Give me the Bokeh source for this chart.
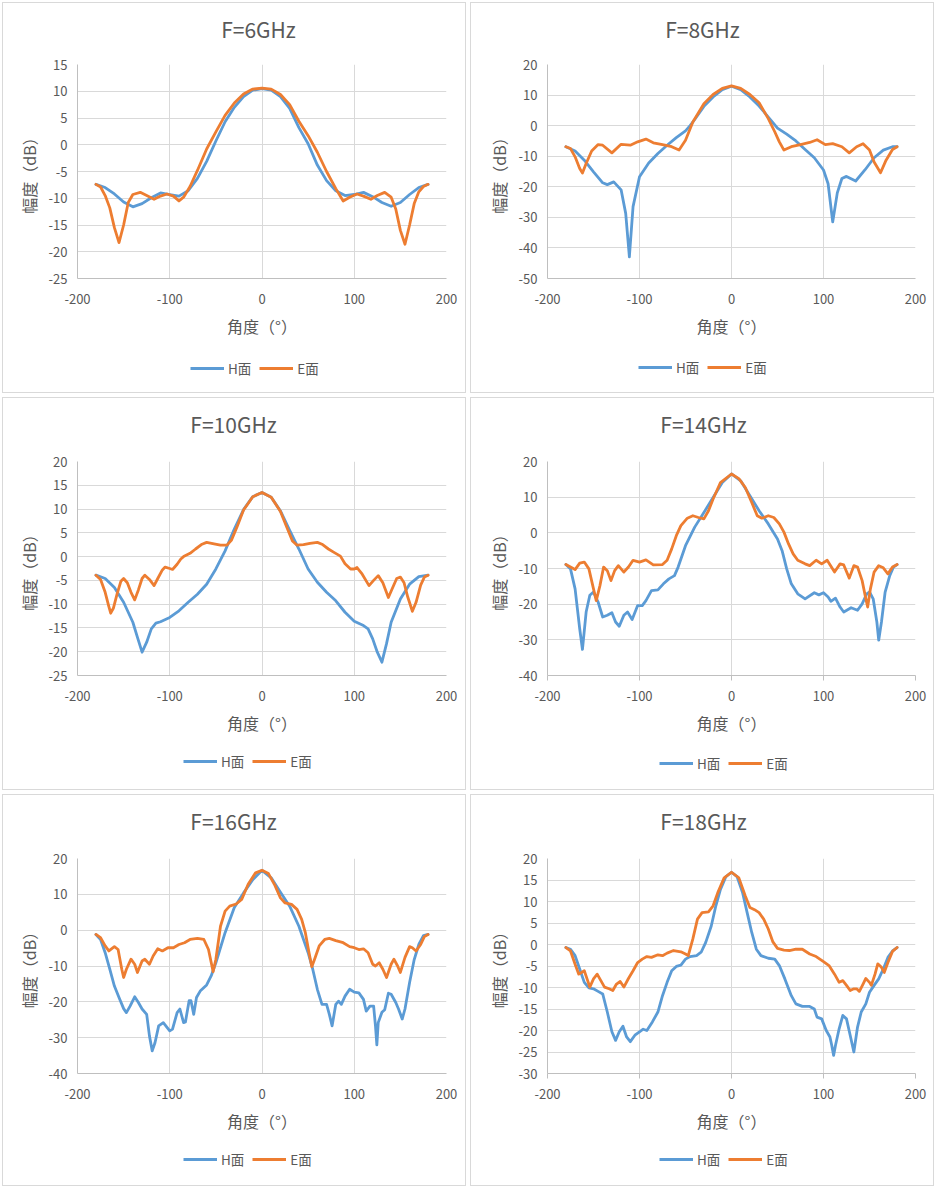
from bokeh.plotting import figure
from bokeh.layouts import column, row
from bokeh.models import Legend, LegendItem, FixedTicker, Range1d, NumeralTickFormatter, Label
from bokeh.embed import file_html
from bokeh.resources import INLINE

# ---------------- data (angle in degrees, amplitude in dB) ----------------
titles = ["F=6GHz", "F=8GHz", "F=10GHz", "F=14GHz", "F=16GHz", "F=18GHz"]
x_ticks = [-200, -100, 0, 100, 200]
y_ticks_6 = [-25, -20, -15, -10, -5, 0, 5, 10, 15]
y_ticks_8 = [-50, -40, -30, -20, -10, 0, 10, 20]
y_ticks_10 = [-25, -20, -15, -10, -5, 0, 5, 10, 15, 20]
y_ticks_14 = [-40, -30, -20, -10, 0, 10, 20]
y_ticks_16 = [-40, -30, -20, -10, 0, 10, 20]
y_ticks_18 = [-30, -25, -20, -15, -10, -5, 0, 5, 10, 15, 20]

ang6_h = [-180, -170, -160, -150, -140, -130, -120, -110, -100, -90, -80, -70, -60, -50, -40, -30, -20, -10, 0,
          10, 20, 30, 40, 50, 60, 70, 80, 90, 100, 110, 120, 130, 140, 150, 160, 170, 180]
h6 = [-7.4, -8.0, -9.2, -10.7, -11.6, -11.0, -9.9, -9.0, -9.3, -9.6, -8.6, -6.3, -3.1, 0.7, 4.3, 7.0, 9.0, 10.2, 10.5,
      10.2, 9.0, 6.8, 3.2, 0.2, -3.8, -6.7, -8.6, -9.5, -9.3, -8.9, -9.7, -10.8, -11.5, -10.8, -9.3, -8.0, -7.4]
ang6_e = [-180, -175, -170, -165, -160, -155, -150, -145, -140, -132, -125, -117, -110, -103, -96, -90, -85, -78, -70,
          -60, -50, -40, -30, -20, -10, 0, 10, 20, 30, 40, 50, 60, 70, 80, 88, 95, 103, 110, 118, 125, 133, 140, 145,
          150, 155, 160, 165, 170, 175, 180]
e6 = [-7.4, -7.9, -9.5, -11.8, -15.5, -18.3, -15.0, -10.8, -9.3, -8.9, -9.5, -10.2, -9.6, -9.2, -9.6, -10.5, -9.8, -7.8,
      -4.8, -0.8, 2.4, 5.5, 7.8, 9.5, 10.4, 10.6, 10.4, 9.4, 7.5, 4.4, 1.7, -1.4, -5.0, -8.2, -10.5, -9.8, -9.2, -9.6,
      -10.2, -9.5, -8.9, -9.8, -12.0, -16.0, -18.6, -15.0, -11.0, -8.8, -7.8, -7.4]

ang8_h = [-180, -170, -160, -150, -140, -135, -128, -120, -115, -111, -107, -100, -90, -80, -70, -60, -50, -45, -40,
          -30, -20, -10, 0, 10, 20, 30, 40, 50, 60, 70, 80, 90, 100, 105, 110, 115, 120, 125, 135, 145, 155, 165, 175,
          180]
h8 = [-6.9, -8.3, -11.3, -15.1, -18.7, -19.3, -18.4, -21.0, -28.7, -42.9, -26.5, -16.7, -12.2, -9.1, -6.4, -3.9, -1.7,
      0.0, 2.0, 6.3, 9.4, 11.8, 12.9, 11.8, 9.4, 6.4, 2.8, -0.8, -2.8, -5.0, -7.8, -10.5, -14.5, -19.0, -31.5, -22.0,
      -17.3, -16.6, -18.1, -14.5, -10.5, -8.0, -6.9, -6.9]
ang8_e = [-180, -175, -170, -165, -162, -158, -152, -145, -140, -130, -120, -110, -102, -93, -85, -75, -65, -57, -50,
          -42, -30, -20, -10, 0, 10, 20, 30, 40, 47, 52, 57, 65, 75, 85, 93, 102, 110, 120, 128, 136, 143, 150, 155,
          162, 168, 175, 180]
e8 = [-6.9, -7.5, -10.2, -14.0, -15.5, -12.4, -8.3, -6.2, -6.4, -8.9, -6.1, -6.4, -5.3, -4.4, -5.6, -6.2, -6.9, -8.0,
      -4.8, 1.2, 7.2, 10.2, 12.2, 13.0, 12.2, 10.2, 7.5, 2.3, -2.0, -5.3, -8.0, -6.9, -6.2, -5.5, -4.6, -6.2, -5.9,
      -6.9, -8.9, -6.9, -5.9, -8.0, -11.9, -15.4, -11.3, -7.8, -6.9]

ang10_h = [-180, -170, -160, -150, -140, -135, -130, -125, -120, -115, -110, -100, -90, -80, -70, -60, -50, -40, -30,
           -20, -10, 0, 10, 20, 30, 40, 50, 60, 70, 80, 90, 100, 110, 115, 120, 125, 130, 135, 140, 150, 160, 170, 180]
h10 = [-3.9, -4.6, -6.5, -9.6, -13.8, -17.0, -20.1, -18.0, -15.2, -14.0, -13.7, -12.8, -11.4, -9.6, -7.9, -5.8, -2.6,
       1.2, 5.8, 9.9, 12.6, 13.5, 12.5, 9.6, 5.5, 1.6, -2.6, -5.4, -7.5, -9.3, -11.7, -13.6, -14.5, -15.2, -17.3, -20.1,
       -22.2, -18.3, -13.8, -8.9, -5.8, -4.2, -3.9]
ang10_e = [-180, -175, -170, -166, -164, -161, -157, -153, -150, -146, -142, -138, -134, -130, -127, -122, -117, -113,
           -108, -105, -100, -97, -92, -88, -85, -78, -72, -65, -60, -52, -45, -38, -33, -27, -20, -10, 0, 10, 20, 27,
           33, 38, 45, 52, 60, 65, 72, 78, 85, 90, 96, 100, 103, 108, 116, 121, 126, 131, 137, 141, 146, 150, 154, 158,
           163, 167, 172, 176, 180]
e10 = [-3.9, -4.8, -7.5, -10.5, -11.9, -10.8, -7.8, -5.2, -4.6, -5.5, -7.5, -9.1, -7.0, -4.6, -3.9, -4.8, -6.1, -4.6,
       -2.8, -2.2, -2.5, -2.7, -1.6, -0.5, 0.0, 0.7, 1.6, 2.6, 3.0, 2.7, 2.4, 2.4, 3.5, 6.3, 9.8, 12.6, 13.5, 12.5, 9.5,
       6.1, 3.3, 2.4, 2.5, 2.8, 3.0, 2.6, 1.6, 0.9, 0.1, -1.5, -2.6, -2.6, -2.3, -3.5, -6.1, -5.0, -4.0, -5.5, -8.6,
       -6.8, -4.6, -4.3, -5.5, -8.5, -11.5, -9.6, -6.0, -4.3, -3.9]

ang14_h = [-180, -175, -170, -165, -162, -158, -154, -150, -145, -140, -135, -130, -126, -122, -117, -113, -108, -102,
           -97, -93, -87, -80, -74, -68, -62, -58, -50, -40, -30, -20, -10, 0, 10, 20, 30, 40, 50, 55, 60, 65, 72, 80,
           90, 95, 100, 105, 108, 113, 118, 122, 130, 137, 142, 147, 150, 154, 158, 160, 163, 167, 172, 176, 180]
h14 = [-8.9, -10.1, -15.7, -26.9, -32.7, -22.2, -17.5, -16.6, -19.4, -23.6, -23.1, -22.4, -25.0, -26.2, -23.1, -22.2,
       -24.3, -20.4, -20.4, -19.0, -16.2, -16.0, -14.3, -12.9, -12.0, -9.6, -3.6, 1.6, 5.7, 9.9, 14.1, 16.5, 14.6, 10.4,
       6.2, 2.5, -1.7, -5.0, -10.1, -14.3, -17.1, -18.5, -16.8, -17.4, -16.8, -18.0, -19.2, -18.3, -20.8, -22.2, -21.0,
       -21.7, -19.9, -17.1, -16.6, -18.5, -25.0, -30.1, -25.0, -16.6, -12.0, -9.6, -8.9]
ang14_e = [-180, -175, -170, -165, -160, -155, -150, -147, -143, -139, -135, -131, -127, -123, -117, -112, -107, -100,
           -93, -85, -75, -70, -65, -60, -55, -48, -42, -36, -30, -25, -20, -12, 0, 8, 15, 22, 28, 33, 40, 46, 52, 57,
           62, 67, 72, 80, 85, 92, 98, 104, 112, 118, 122, 128, 133, 137, 142, 146, 148, 151, 155, 160, 165, 170, 175,
           180]
e14 = [-8.9, -9.6, -10.3, -8.5, -8.2, -10.1, -15.7, -19.0, -14.8, -9.6, -10.6, -13.4, -10.6, -9.2, -11.0, -9.6, -7.7,
       -8.2, -7.6, -9.0, -8.9, -7.7, -4.5, -0.8, 2.0, 4.1, 4.8, 4.3, 3.9, 6.2, 9.5, 14.1, 16.5, 15.2, 12.7, 8.5, 4.8,
       4.1, 4.8, 4.3, 2.5, 0.2, -3.1, -5.9, -7.7, -8.7, -9.2, -7.7, -8.7, -7.7, -11.0, -8.7, -9.0, -12.7, -9.2, -9.6,
       -13.4, -18.5, -20.8, -15.7, -11.0, -9.2, -9.8, -11.5, -9.6, -8.9]

ang16_h = [-180, -175, -170, -165, -160, -155, -150, -147, -143, -138, -134, -130, -125, -122, -119, -116, -112, -107,
           -100, -97, -92, -89, -85, -83, -79, -77, -74, -71, -67, -60, -55, -50, -40, -30, -20, -10, 0, 10, 20, 30, 40,
           50, 55, 60, 65, 70, 73, 76, 80, 83, 86, 90, 95, 100, 105, 110, 113, 117, 121, 123, 124.5, 126, 130, 133, 137,
           140, 145, 148, 152, 155, 160, 165, 170, 175, 180]
h16 = [-1.2, -2.6, -6.3, -10.9, -15.6, -18.8, -21.9, -23.0, -21.2, -18.6, -20.2, -22.0, -23.5, -29.5, -33.7, -31.4,
       -26.7, -25.8, -28.1, -27.6, -23.0, -22.0, -25.8, -25.6, -19.7, -19.7, -23.5, -18.8, -17.0, -15.3, -12.7, -9.1,
       -0.7, 6.3, 10.4, 14.1, 16.7, 14.6, 10.6, 6.7, 1.1, -6.3, -10.9, -16.5, -20.7, -20.7, -23.5, -26.7, -20.7, -19.8,
       -20.7, -18.4, -16.5, -17.3, -17.5, -19.3, -22.6, -21.2, -21.2, -26.7, -32.0, -25.8, -22.9, -22.2, -17.6, -17.9,
       -20.2, -22.0, -24.8, -22.0, -14.6, -8.2, -4.0, -1.5, -1.2]
ang16_e = [-180, -175, -170, -166, -160, -156, -152, -150, -147, -142, -138, -135, -130, -127, -122, -118, -113, -108,
           -102, -96, -90, -84, -78, -70, -63, -58, -55, -53, -50, -45, -40, -35, -28, -22, -15, -7, 0, 7, 14, 20, 25,
           32, 38, 43, 47, 51, 54, 57, 62, 68, 73, 80, 88, 95, 100, 105, 110, 115, 120, 123, 127, 131, 135, 140, 143,
           147, 150, 155, 160, 163, 167, 172, 176, 180]
e16 = [-1.2, -2.1, -4.4, -5.8, -4.6, -5.4, -10.9, -13.2, -10.9, -8.1, -9.5, -11.8, -8.6, -8.1, -9.5, -7.2, -5.2, -5.8,
       -4.9, -4.9, -4.0, -3.5, -2.6, -2.3, -2.6, -5.4, -9.1, -11.6, -8.1, 1.1, 5.3, 6.7, 7.3, 8.6, 12.8, 16.0, 16.7,
       15.8, 12.5, 9.0, 7.6, 7.2, 5.8, 3.0, -0.7, -6.3, -10.2, -8.1, -4.4, -2.6, -2.3, -2.9, -3.5, -4.6, -4.9, -5.4,
       -5.2, -6.3, -9.5, -10.0, -9.1, -10.9, -13.2, -9.5, -8.1, -10.0, -11.8, -7.6, -4.6, -4.9, -5.8, -4.0, -1.8, -1.2]

ang18_h = [-180, -175, -170, -165, -160, -155, -150, -145, -140, -135, -130, -126, -122, -118, -114, -110, -105, -100,
           -96, -92, -86, -80, -75, -70, -65, -60, -55, -50, -45, -38, -33, -28, -22, -17, -12, -6, 0, 6, 12, 17, 22, 27,
           32, 40, 47, 52, 58, 65, 70, 77, 85, 90, 93, 98, 103, 107, 109, 111, 113, 117, 121, 125, 129, 133, 137, 141,
           146, 150, 155, 160, 165, 170, 175, 180]
h18 = [-0.7, -1.1, -2.6, -5.7, -8.8, -10.1, -10.3, -10.9, -11.5, -15.7, -20.3, -22.3, -20.3, -19.0, -21.5, -22.6,
       -21.1, -20.3, -19.7, -20.0, -18.0, -15.7, -11.9, -8.8, -6.1, -5.1, -4.8, -3.4, -2.8, -2.6, -1.8, 0.5, 4.3, 9.0,
       12.8, 15.8, 16.8, 15.8, 12.1, 7.4, 2.8, -1.1, -2.6, -3.2, -3.4, -4.9, -8.0, -11.9, -13.8, -14.4, -14.4, -15.0,
       -16.9, -17.3, -20.0, -21.5, -23.5, -25.8, -23.5, -19.6, -16.5, -17.3, -21.1, -25.0, -19.2, -15.7, -13.8, -11.1,
       -9.5, -8.0, -5.7, -3.0, -1.5, -0.7]
ang18_e = [-180, -175, -170, -166, -163, -160, -157, -154, -150, -146, -142, -138, -133, -129, -125, -121, -117, -112,
           -107, -102, -97, -92, -87, -80, -75, -70, -63, -55, -50, -47, -42, -37, -32, -25, -20, -15, -8, 0, 8, 15, 20,
           25, 30, 35, 40, 45, 50, 57, 63, 70, 77, 85, 92, 100, 106, 112, 117, 121, 125, 129, 133, 136, 139, 143, 146,
           150, 152, 156, 159, 163, 166, 170, 175, 180]
e18 = [-0.7, -1.5, -4.6, -6.9, -6.5, -6.1, -8.0, -9.9, -8.0, -6.9, -8.4, -9.9, -10.3, -10.7, -9.2, -8.6, -9.9, -7.9,
       -6.1, -4.2, -3.4, -2.8, -3.0, -2.4, -2.6, -2.0, -1.4, -1.7, -2.2, -2.6, 1.3, 5.9, 7.4, 7.6, 9.0, 12.0, 15.5, 16.8,
       15.5, 11.3, 8.6, 8.1, 7.4, 5.9, 3.6, 0.6, -0.9, -1.3, -1.4, -1.1, -1.1, -2.2, -2.8, -4.0, -4.9, -6.9, -8.8, -8.4,
       -9.5, -10.7, -10.3, -10.3, -10.9, -9.2, -7.9, -8.8, -9.5, -6.9, -4.5, -5.3, -6.5, -4.2, -1.6, -0.7]

series_names = ["H面", "E面"]

# ---------------- styling ----------------
FONT = "Noto Sans CJK SC"
BLUE = "#5B9BD5"
ORANGE = "#ED7D31"
TXT = "#595959"
GRID = "#D9D9D9"
AXIS = "#BFBFBF"
LEG_H = 44
TTL_H = 48


def strip(w, h, bl, br, y_range):
    s = figure(width=w, height=h, output_backend="svg", toolbar_location=None, title=None,
               x_axis_type=None, y_axis_type=None, x_range=Range1d(-200, 200), y_range=y_range,
               min_border_left=bl, min_border_right=br, min_border_top=0, min_border_bottom=0,
               background_fill_color=None, border_fill_color=None)
    s.outline_line_color = None
    s.xgrid.visible = False
    s.ygrid.visible = False
    return s


def title_strip(text, w, bl, br, tx):
    t = strip(w, TTL_H, bl, br, Range1d(0, 1))
    t.add_layout(Label(x=tx, y=TTL_H - 28, x_units="screen", y_units="screen", text=text,
                       text_align="center", text_baseline="middle", text_font=FONT,
                       text_font_size="21px", text_color=TXT))
    return t


def chart(ah, hv, ae, ev, yticks, w, hgt, bl, br, bt, bb, tick_out):
    p = figure(width=w, height=hgt, output_backend="svg", toolbar_location=None, title=None,
               x_range=Range1d(-200, 200), y_range=Range1d(yticks[0], yticks[-1]),
               min_border_left=bl, min_border_right=br, min_border_top=bt, min_border_bottom=bb,
               background_fill_color="white", border_fill_color=None)
    p.outline_line_color = None

    p.xaxis.ticker = FixedTicker(ticks=x_ticks)
    p.yaxis.ticker = FixedTicker(ticks=yticks)
    for ax in (p.xaxis, p.yaxis):
        ax.formatter = NumeralTickFormatter(format="0")
        ax.major_label_text_font = FONT
        ax.major_label_text_font_size = "13px"
        ax.major_label_text_color = TXT
        ax.axis_label_text_font = FONT
        ax.axis_label_text_font_size = "16px"
        ax.axis_label_text_font_style = "normal"
        ax.axis_label_text_color = TXT
        ax.axis_line_color = AXIS
        ax.minor_tick_line_color = None
        ax.major_tick_in = 0
    p.xaxis.axis_label = "角度（°）"
    p.yaxis.axis_label = "幅度（dB）"
    p.yaxis.major_tick_out = 0
    p.yaxis.major_tick_line_color = None
    p.yaxis.major_label_standoff = 10
    p.yaxis.axis_label_standoff = 5
    if tick_out:
        p.xaxis.major_tick_out = 5
        p.xaxis.major_tick_line_color = AXIS
        p.xaxis.major_label_standoff = 10
    else:
        p.xaxis.major_tick_out = 0
        p.xaxis.major_tick_line_color = None
        p.xaxis.major_label_standoff = 15
    p.xaxis.axis_label_standoff = 7

    p.xgrid.grid_line_color = GRID
    p.ygrid.grid_line_color = GRID

    p.line(ah, hv, line_color=BLUE, line_width=2.8, line_join="round", line_cap="round")
    p.line(ae, ev, line_color=ORANGE, line_width=2.8, line_join="round", line_cap="round")
    return p


def legend_strip(ah, hv, ae, ev, w, bl, br, leg_x, leg_y):
    # the series are drawn again here only to feed the legend; the y range keeps them out of view
    lf = strip(w, LEG_H, bl, br, Range1d(1000, 1001))
    rh = lf.line(ah, hv, line_color=BLUE, line_width=2.8)
    re = lf.line(ae, ev, line_color=ORANGE, line_width=2.8)
    leg = Legend(items=[LegendItem(label=series_names[0], renderers=[rh]),
                        LegendItem(label=series_names[1], renderers=[re])],
                 location=(leg_x, leg_y), orientation="horizontal",
                 label_text_font=FONT, label_text_font_size="13.5px", label_text_color=TXT,
                 glyph_width=34, glyph_height=20, label_standoff=4, spacing=8,
                 padding=0, margin=0, border_line_color=None, background_fill_alpha=0)
    lf.add_layout(leg)
    return lf


def panel(title, ah, hv, ae, ev, yticks, right, hgt, bt, bb, tick_out, tx, leg_x, leg_y):
    bl, br = (79, 21) if right else (77, 22)
    t = title_strip(title, 468, bl, br, tx)
    c = chart(ah, hv, ae, ev, yticks, 468, hgt - LEG_H - TTL_H, bl, br, bt - TTL_H, bb - LEG_H, tick_out)
    lg = legend_strip(ah, hv, ae, ev, 468, bl, br, leg_x, leg_y)
    col = column(t, c, lg)
    col.styles = {"background-color": "white",
                  "box-shadow": "inset 0 0 0 2px #FFFFFF, inset 0 0 0 3px #D9D9D9"}
    return col


c1 = panel(titles[0], ang6_h, h6, ang6_e, e6, y_ticks_6, False, 395, 64, 117, False, 181, 113, 17)
c2 = panel(titles[1], ang8_h, h8, ang8_e, e8, y_ticks_8, True, 395, 64, 117, False, 155, 91, 18)
c3 = panel(titles[2], ang10_h, h10, ang10_e, e10, y_ticks_10, False, 397, 66, 117, False, 156, 106, 21)
c4 = panel(titles[3], ang14_h, h14, ang14_e, e14, y_ticks_14, True, 397, 66, 117, True, 156, 112, 19)
c5 = panel(titles[4], ang16_h, h16, ang16_e, e16, y_ticks_16, False, 396, 66, 115, False, 156, 106, 19)
c6 = panel(titles[5], ang18_h, h18, ang18_e, e18, y_ticks_18, True, 396, 66, 115, True, 156, 112, 19)

layout = column(row(c1, c2), row(c3, c4), row(c5, c6))

open("out.html", "w").write(file_html(layout, INLINE))
